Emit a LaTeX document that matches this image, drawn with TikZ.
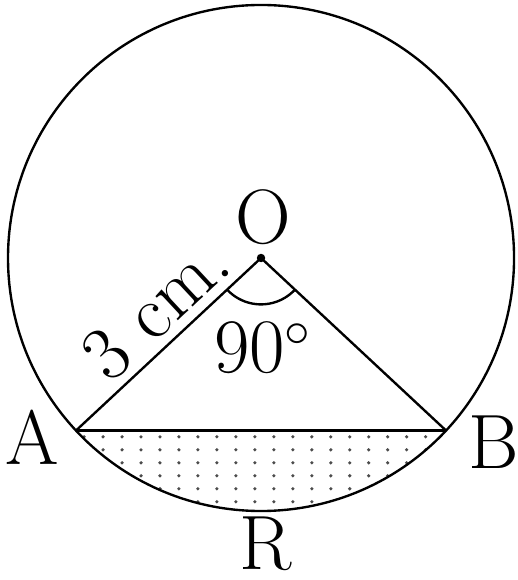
\documentclass[tikz,border=0pt]{standalone}
\begin{document}
\begin{tikzpicture}[line width=0.8pt,
    lbl/.style={font=\fontsize{26}{30}\selectfont, inner sep=0pt}]
    \useasboundingbox (-3.095,-3.818) rectangle (3.036,3.059);
    % Define the centre and the ends of the chord
    \coordinate (O) at (0,0);
    \coordinate (A) at (223:3);
    \coordinate (B) at (-43:3);

    % Dotted shading of the minor segment
    \begin{scope}
        \clip (A) -- (B) arc[start angle=-43, end angle=-137, radius=3] -- cycle;
        \foreach \i in {-10,...,10}
            \foreach \j in {0,...,7}
                \fill[black!70] (0.152+0.225*\i, -2.12-0.154*\j) circle (0.021);
    \end{scope}

    % Draw the circle, the radii and the chord
    \draw (O) circle (3);
    \draw (A) -- (O) -- (B);
    \draw (A) -- (B);

    % Angle mark and centre point
    \draw (O) ++(223:0.55) arc[start angle=223, end angle=317, radius=0.55];
    \fill (O) circle (0.05);

    % Labels
    \node[lbl] (labO) at (0.024,0.486) {O};
    \node[lbl] (labA) at (-2.715,-2.13) {A};
    \node[lbl] (labB) at (2.763,-2.18) {B};
    \node[lbl] (labR) at (0.06,-3.39) {R};
    \node[lbl] (labAng) at (0.024,-1.067) {90$^\circ$};
    \node[lbl, rotate=43] (labRad) at (-1.25,-0.60) {3 cm.};
\end{tikzpicture}
\end{document}
